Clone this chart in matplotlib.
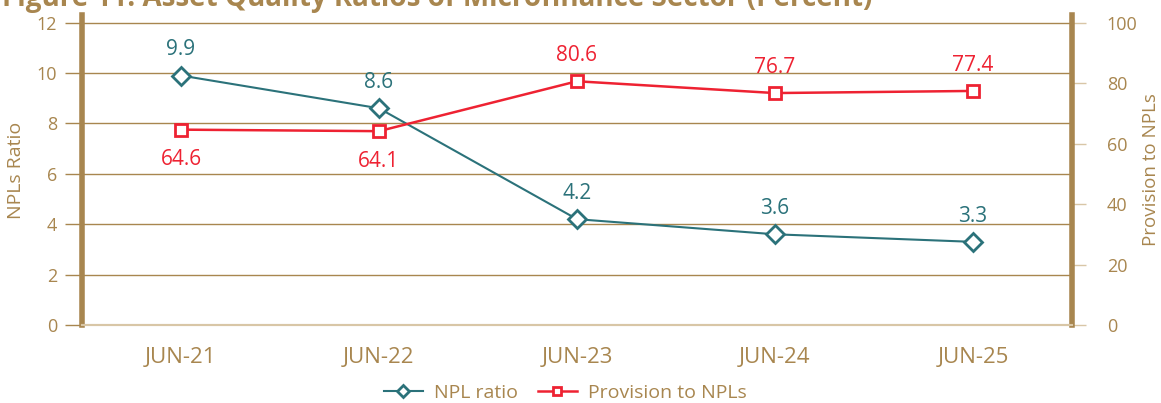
import matplotlib

matplotlib.use("Agg")
import matplotlib.pyplot as plt
import numpy as np

plt.rcParams["font.family"] = ["Open Sans", "DejaVu Sans"]

# data
periods = ["JUN-21", "JUN-22", "JUN-23", "JUN-24", "JUN-25"]
npl_ratio = [9.9, 8.6, 4.2, 3.6, 3.3]
provision = [64.6, 64.1, 80.6, 76.7, 77.4]
provision_label_below = [True, True, False, False, False]

GOLD = "#A8864F"
TEAL = "#2B727A"
RED = "#EE2232"

fig = plt.figure(figsize=(11.61, 4.03), dpi=100)
ax = fig.add_axes([0.0706, 0.1935, 0.8527, 0.7692])
ax2 = ax.twinx()

x = np.arange(len(periods))

ax.set_xlim(-0.5, len(periods) - 0.5)
ax.set_ylim(0, 12.3)
ax.set_yticks(np.arange(0, 13, 2))
ax.grid(axis="y", color=GOLD, linewidth=1.0)
ax.set_axisbelow(True)
ax.tick_params(axis="y", length=12, width=1.0, color=GOLD, labelcolor=GOLD,
               labelsize=13, pad=6)
ax.tick_params(axis="x", length=0, labelcolor=GOLD, labelsize=16, pad=16)
ax.set_xticks(x)
ax.set_xticklabels(periods)
ax.set_ylabel("NPLs Ratio", color=GOLD, fontsize=14, labelpad=8)

ax2.set_ylim(0, 102.5)
ax2.set_yticks(np.arange(0, 101, 20))
ax2.tick_params(axis="y", length=10, width=1.0, color="#D8C6A6", labelcolor=GOLD,
                labelsize=13, pad=15)
ax2.set_ylabel("Provision to NPLs", color=GOLD, fontsize=13.5, labelpad=3)

for a in (ax, ax2):
    a.spines["top"].set_visible(False)
    a.spines["left"].set_color(GOLD)
    a.spines["left"].set_linewidth(4)
    a.spines["right"].set_color(GOLD)
    a.spines["right"].set_linewidth(4)
    a.spines["bottom"].set_color("#D8C6A6")
    a.spines["bottom"].set_linewidth(1.5)
ax.spines["right"].set_visible(False)
ax2.spines["left"].set_visible(False)

l1, = ax.plot(x, npl_ratio, color=TEAL, linewidth=1.5, marker="D",
              markersize=9, markerfacecolor="white", markeredgecolor=TEAL,
              markeredgewidth=2, label="NPL ratio", zorder=3)
l2, = ax2.plot(x, provision, color=RED, linewidth=1.8, marker="s",
               markersize=9, markerfacecolor="white", markeredgecolor=RED,
               markeredgewidth=2, label="Provision to NPLs", zorder=3)

for xi, v in zip(x, npl_ratio):
    ax.annotate(f"{v:.1f}", (xi, v), xytext=(0, 11), textcoords="offset points",
                ha="center", va="bottom", color=TEAL, fontsize=15)
for xi, v, below in zip(x, provision, provision_label_below):
    off = -14 if below else 11
    ax2.annotate(f"{v:.1f}", (xi, v), xytext=(0, off), textcoords="offset points",
                 ha="center", va="top" if below else "bottom", color=RED, fontsize=15)

fig.text(0.002, 1 - 6 / 403, "Figure 11: Asset Quality Ratios of Microfinance Sector (Percent)",
         color=GOLD, fontsize=20, fontweight="bold", va="baseline", ha="left")

leg = fig.legend(handles=[l1, l2], loc="center", bbox_to_anchor=(0.487, 0.026),
                 ncol=2, frameon=False, fontsize=14, handlelength=2.0,
                 columnspacing=1.0, handletextpad=0.6, markerscale=0.7)
for t in leg.get_texts():
    t.set_color(GOLD)

fig.savefig("out.png", dpi=100)
